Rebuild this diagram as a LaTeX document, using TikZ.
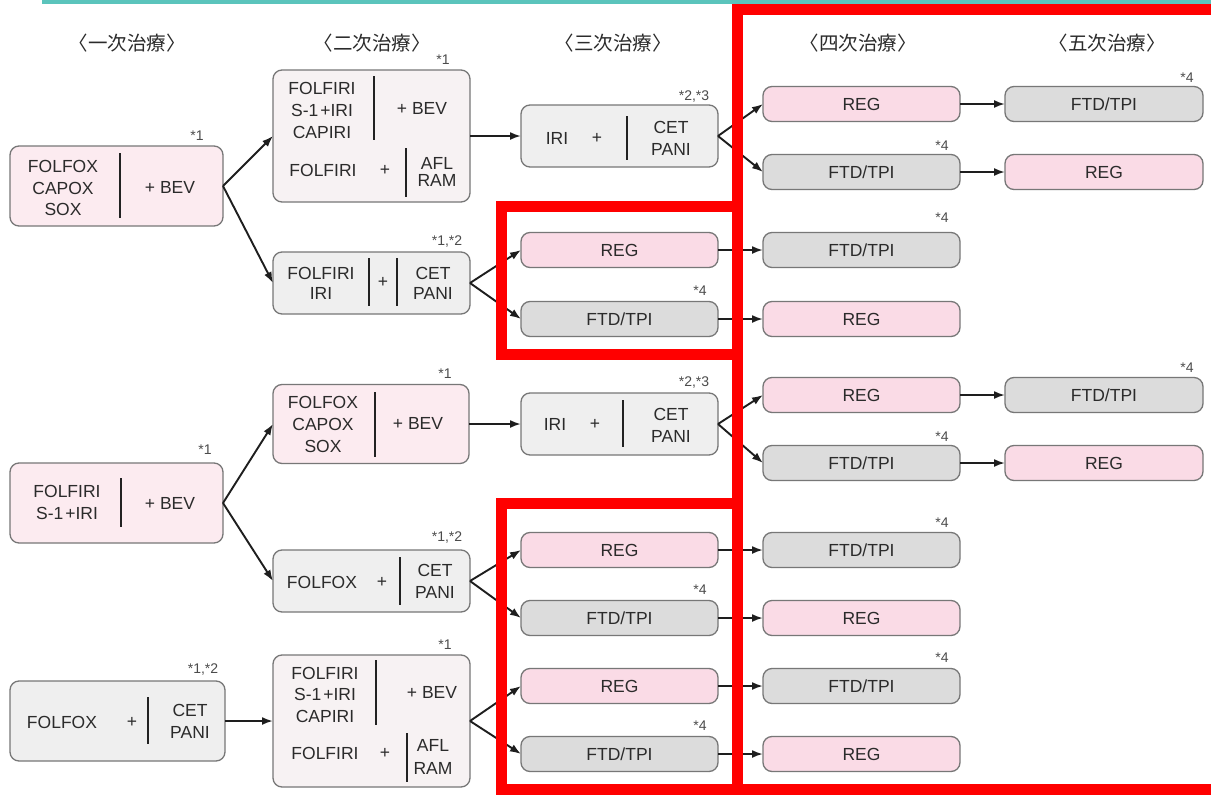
\documentclass[tikz,border=0pt]{standalone}
\usepackage{fontspec}
\setmainfont{Liberation Sans}
\newfontfamily\cjkfont{Noto Sans CJK JP}
\usetikzlibrary{arrows.meta}
\definecolor{pinkl}{HTML}{FCEBF0}
\definecolor{pinkg}{HTML}{F7F2F3}
\definecolor{grayl}{HTML}{EFEFEF}
\definecolor{regc}{HTML}{FADBE6}
\definecolor{ftdc}{HTML}{DCDCDC}
\definecolor{bordc}{HTML}{777777}
\definecolor{txtc}{HTML}{2B2B2B}
\definecolor{barc}{HTML}{222222}
\definecolor{arrc}{HTML}{1E1E1E}
\definecolor{redc}{HTML}{FF0000}
\definecolor{tealc}{HTML}{5BC4BC}
\tikzset{
 bx/.style={draw=bordc, line width=1.3pt, rounded corners=9pt, inner sep=0pt, outer sep=0pt, minimum width=197pt},
 sm/.style={bx, minimum height=35pt},
 regb/.style={sm, fill=regc},
 ftdb/.style={sm, fill=ftdc},
 txt/.style={inner sep=0pt, text=txtc, font=\fontsize{17.5}{21.5}\selectfont, align=center},
 note/.style={inner sep=0pt, text=txtc!85, font=\fontsize{14}{14}\selectfont},
 hdr/.style={inner sep=0pt, text=txtc, font=\cjkfont\fontsize{19.5}{19.5}\selectfont},
 vbar/.style={line width=2.6pt, draw=barc},
 arr/.style={-{Latex[length=11pt,width=8pt]}, line width=1.9pt, draw=arrc},
 redl/.style={draw=redc, line width=11pt, line join=miter},
}
\begin{document}
\begin{tikzpicture}[x=1pt,y=-1pt]
\useasboundingbox (0,0) rectangle (1211,795);
\fill[white] (0,0) rectangle (1211,795);
\fill[tealc] (42,0) rectangle (1211,4);

% headers
\node[hdr] (h1) at (127,43) {〈一次治療〉};
\node[hdr] (h2) at (372,43) {〈二次治療〉};
\node[hdr] (h3) at (613,43) {〈三次治療〉};
\node[hdr] (h4) at (858,43) {〈四次治療〉};
\node[hdr] (h5) at (1107,43) {〈五次治療〉};

% ---------- first line boxes
\node[bx, fill=pinkl, minimum width=213pt, minimum height=80pt] (A1) at (116.5,186) {};
\node[txt] (A1t) at (63,188) {FOLFOX\\CAPOX\\SOX};
\draw[vbar] (120,153) -- (120,218);
\node[txt] (A1r) at (170,187) {+ BEV};
\node[note] (A1n) at (197,136) {*1};

\node[bx, fill=pinkl, minimum width=213pt, minimum height=80pt] (A2) at (116.5,503) {};
\node[txt, font=\fontsize{17.5}{22}\selectfont] (A2t) at (67,502) {FOLFIRI\\S-1\kern2pt+IRI};
\draw[vbar] (121,478) -- (121,527);
\node[txt] (A2r) at (170,503) {+ BEV};
\node[note] (A2n) at (205,450) {*1};

\node[bx, fill=grayl, minimum width=215pt, minimum height=80pt] (A3) at (117.5,721) {};
\node[txt] (A3t) at (62,722) {FOLFOX};
\node[txt] (A3p) at (132,722) {+};
\draw[vbar] (148,697) -- (148,744);
\node[txt, font=\fontsize{17.5}{22}\selectfont] (A3r) at (190,721) {CET\\PANI};
\node[note] (A3n) at (203,670) {*1,*2};

% ---------- second line boxes
\node[bx, fill=pinkg, minimum height=132pt] (B1) at (371.5,136) {};
\node[txt, font=\fontsize{17.5}{22}\selectfont] (B1t) at (322,110) {FOLFIRI\\S-1\kern2pt+IRI\\CAPIRI};
\draw[vbar] (374,76) -- (374,140);
\node[txt] (B1r) at (422,108) {+ BEV};
\node[txt] (B1u) at (323,170) {FOLFIRI};
\node[txt] (B1p) at (385,170) {+};
\draw[vbar] (406,148) -- (406,197);
\node[txt, font=\fontsize{17.5}{17}\selectfont] (B1v) at (437,171.5) {AFL\\RAM};
\node[note] (B1n) at (443,60) {*1};

\node[bx, fill=grayl, minimum height=62pt] (B2) at (371.5,283) {};
\node[txt, font=\fontsize{17.5}{20}\selectfont] (B2t) at (321,283) {FOLFIRI\\IRI};
\draw[vbar] (369,258) -- (369,306);
\node[txt] (B2p) at (383,282) {+};
\draw[vbar] (397,258) -- (397,306);
\node[txt, font=\fontsize{17.5}{20}\selectfont] (B2r) at (433,283) {CET\\PANI};
\node[note] (B2n) at (447,242) {*1,*2};

\node[bx, fill=pinkl, minimum width=196pt, minimum height=79pt] (B3) at (371,424) {};
\node[txt, font=\fontsize{17.5}{22}\selectfont] (B3t) at (323,424) {FOLFOX\\CAPOX\\SOX};
\draw[vbar] (375,392) -- (375,457);
\node[txt] (B3r) at (418,423) {+ BEV};
\node[note] (B3n) at (445,374) {*1};

\node[bx, fill=grayl, minimum height=62pt] (B4) at (371.5,581) {};
\node[txt] (B4t) at (322,582) {FOLFOX};
\node[txt] (B4p) at (382,582) {+};
\draw[vbar] (400,557) -- (400,605);
\node[txt, font=\fontsize{17.5}{22}\selectfont] (B4r) at (435,581) {CET\\PANI};
\node[note] (B4n) at (447,538) {*1,*2};

\node[bx, fill=pinkg, minimum height=132pt] (B5) at (371.5,721) {};
\node[txt, font=\fontsize{17.5}{21.5}\selectfont] (B5t) at (325,694.5) {FOLFIRI\\S-1\kern2pt+IRI\\CAPIRI};
\draw[vbar] (376,660) -- (376,725);
\node[txt] (B5r) at (432,692) {+ BEV};
\node[txt] (B5u) at (325,753) {FOLFIRI};
\node[txt] (B5p) at (385,753) {+};
\draw[vbar] (407,733) -- (407,782);
\node[txt, font=\fontsize{17.5}{23}\selectfont] (B5v) at (433,756.5) {AFL\\RAM};
\node[note] (B5n) at (445,645) {*1};

% ---------- third line
\node[bx, fill=grayl, minimum height=62pt] (C1) at (619.5,136) {};
\node[txt] (C1t) at (557,138) {IRI};
\node[txt] (C1p) at (597,138) {+};
\draw[vbar] (627,116) -- (627,160);
\node[txt, font=\fontsize{17.5}{22}\selectfont] (C1r) at (671,138) {CET\\PANI};
\node[note] (C1n) at (694,97) {*2,*3};

\node[bx, fill=grayl, minimum height=62pt] (C2) at (619.5,424) {};
\node[txt] (C2t) at (555,424) {IRI};
\node[txt] (C2p) at (595,424) {+};
\draw[vbar] (623,400) -- (623,447);
\node[txt, font=\fontsize{17.5}{22}\selectfont] (C2r) at (671,425) {CET\\PANI};
\node[note] (C2n) at (694,383) {*2,*3};

\node[regb] (C3) at (619.5,250) {};
\node[txt] (C3t) at (C3) {REG};
\node[ftdb] (C4) at (619.5,319) {};
\node[txt] (C4t) at (C4) {FTD/TPI};
\node[note] (C4n) at (700,291) {*4};
\node[regb] (C7) at (619.5,550) {};
\node[txt] (C7t) at (C7) {REG};
\node[ftdb] (C8) at (619.5,618) {};
\node[txt] (C8t) at (C8) {FTD/TPI};
\node[note] (C8n) at (700,590) {*4};
\node[regb] (C9) at (619.5,686) {};
\node[txt] (C9t) at (C9) {REG};
\node[ftdb] (C10) at (619.5,754) {};
\node[txt] (C10t) at (C10) {FTD/TPI};
\node[note] (C10n) at (700,726) {*4};

% ---------- fourth line
\node[regb] (D1) at (861.5,104) {};
\node[txt] (D1t) at (D1) {REG};
\node[ftdb] (D2) at (861.5,172) {};
\node[txt] (D2t) at (D2) {FTD/TPI};
\node[note] (D2n) at (942,146) {*4};
\node[ftdb] (D3) at (861.5,250) {};
\node[txt] (D3t) at (D3) {FTD/TPI};
\node[note] (D3n) at (942,218) {*4};
\node[regb] (D4) at (861.5,319) {};
\node[txt] (D4t) at (D4) {REG};
\node[regb] (D5) at (861.5,395) {};
\node[txt] (D5t) at (D5) {REG};
\node[ftdb] (D6) at (861.5,463) {};
\node[txt] (D6t) at (D6) {FTD/TPI};
\node[note] (D6n) at (942,437) {*4};
\node[ftdb] (D7) at (861.5,550) {};
\node[txt] (D7t) at (D7) {FTD/TPI};
\node[note] (D7n) at (942,523) {*4};
\node[regb] (D8) at (861.5,618) {};
\node[txt] (D8t) at (D8) {REG};
\node[ftdb] (D9) at (861.5,686) {};
\node[txt] (D9t) at (D9) {FTD/TPI};
\node[note] (D9n) at (942,658) {*4};
\node[regb] (D10) at (861.5,754) {};
\node[txt] (D10t) at (D10) {REG};

% ---------- fifth line
\node[ftdb, minimum width=198pt] (E1) at (1104,104) {};
\node[txt] (E1t) at (E1) {FTD/TPI};
\node[note] (E1n) at (1187,78) {*4};
\node[regb, minimum width=198pt] (E2) at (1104,172) {};
\node[txt] (E2t) at (E2) {REG};
\node[ftdb, minimum width=198pt] (E5) at (1104,395) {};
\node[txt] (E5t) at (E5) {FTD/TPI};
\node[note] (E5n) at (1187,368) {*4};
\node[regb, minimum width=198pt] (E6) at (1104,463) {};
\node[txt] (E6t) at (E6) {REG};

% ---------- connectors
\draw[arr] (A1.east) -- (B1.west);
\draw[arr] (A1.east) -- (B2.west);
\draw[arr] (A2.east) -- (B3.west);
\draw[arr] (A2.east) -- (B4.west);
\draw[arr] (A3.east) -- (B5.west);
\draw[arr] (B1.east) -- (C1.west);
\draw[arr] (B2.east) -- (C3.west);
\draw[arr] (B2.east) -- (C4.west);
\draw[arr] (B3.east) -- (C2.west);
\draw[arr] (B4.east) -- (C7.west);
\draw[arr] (B4.east) -- (C8.west);
\draw[arr] (B5.east) -- (C9.west);
\draw[arr] (B5.east) -- (C10.west);
\draw[arr] (C1.east) -- (D1.west);
\draw[arr] (C1.east) -- (D2.west);
\draw[arr] (C2.east) -- (D5.west);
\draw[arr] (C2.east) -- (D6.west);
\draw[arr] (C3.east) -- (D3.west);
\draw[arr] (C4.east) -- (D4.west);
\draw[arr] (C7.east) -- (D7.west);
\draw[arr] (C8.east) -- (D8.west);
\draw[arr] (C9.east) -- (D9.west);
\draw[arr] (C10.east) -- (D10.west);
\draw[arr] (D1.east) -- (E1.west);
\draw[arr] (D2.east) -- (E2.west);
\draw[arr] (D5.east) -- (E5.west);
\draw[arr] (D6.east) -- (E6.west);

% ---------- red frames
\draw[redl] (501.5,206.5) rectangle (737.5,354.5);
\draw[redl] (1225,9.5) -- (737.5,9.5) -- (737.5,789.5) -- (1225,789.5);
\draw[redl] (737.5,503) -- (501.5,503) -- (501.5,789.5) -- (737.5,789.5);
\end{tikzpicture}
\end{document}
